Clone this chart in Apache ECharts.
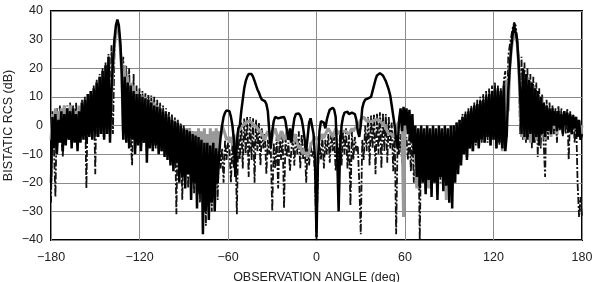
<!DOCTYPE html>
<html>
<head>
<meta charset="utf-8">
<script src="https://cdn.jsdelivr.net/npm/echarts@6/dist/echarts.min.js"></script>
<style>
	html, body { margin: 0; padding: 0; background: #fff; }
	#chart { width: 598px; height: 282px; }
</style>
</head>
<body>
<div id="chart"></div>
<script>
// sampling of observation angle (deg)
const angleStart = -180;
const angleStep = 1;
const xTicks = [ -180, -120, -60, 0, 60, 120, 180 ];
const yTicks = [ -40, -30, -20, -10, 0, 10, 20, 30, 40 ];

// thick black solid curve, dB
const rcsBlack = [
	-20, 3, -8, 4, -10, 2, -6, 5, -9, 4,          // -180
	-7, 6, -5, 5, -8, 6, -6, 4, -9, 5,            // -170
	-6, 8, -5, 9, -6, 11, -4, 12, -5, 13,         // -160
	-3, 15, -4, 17, -3, 19, -5, 21, -3, 24,       // -150
	-6, 12, 22, 30, 35, 37, 35, 29, 18, -5,       // -140
	17, -6, 15, -8, 14, -5, 12, -10, 11, -7,      // -130
	11, -9, 10, -6, 9.5, -13, 9, -8, 8, -9,       // -120
	7, -7, 6.5, -10, 6, -9, 5, -11, 4, -12,       // -110
	3, -14, 2, -16, 1.5, -13, 1, -20, 0, -18,     // -100
	-1, -22, -1.5, -17, -2, -26, -3, -20, -3.5, -29, // -90
	-4, -24, -5, -38, -6, -30, -6, -33, -7, -27,  // -80
	-6, -30, -8, -20, -10, -4, 0, 3, 4.5, 5.3,    // -70
	5.5, 5, 3, 0, -5, -18, -6, -1, 0, 5,          // -60
	9, 13, 15.5, 17, 18, 18.3, 18, 17, 15.6, 14,  // -50
	12.5, 11.5, 10, 9, 8.8, 8.5, 7.5, 5, -2, -8,  // -40
	-2, 1.5, 3, 3.2, 2.5, 2, 2.8, 3.2, 3, 1.5,    // -30
	-2, -5, -1, -6, -1, 2.5, 4, 4.4, 4.2, 3.5,    // -20
	2, -1, -5, -9, -4, 1, 2.5, 2, -3, -12,        // -10
	-39, -12, -2, 1.5, 2, 1, -1, 2, 4, 5.5,       // 0
	6, 6.2, 5.5, 3, -10, -30, -8, 0, 3, 4.5,      // 10
	5, 4.8, 4, 3.5, 4.5, 5, 4, 2, -2, -4,         // 20
	0, 6, 8, 9, 9.5, 9.5, 9.8, 10, 12, 14,        // 30
	16, 17.5, 18, 18.3, 18.2, 17.5, 16.5, 15.5, 14, 12.5, // 40
	10.5, 7, 3.5, 0, -5, -8, 2, 6, -2, 6.5,       // 50
	0, 6, -3, 5.5, -6, 4, -10, 0, -18, -1,        // 60
	-22, 0, -20, -1, -24, 0, -19, -1, -25, 0,     // 70
	-20, -1, -26, 0, -18, -1, -23, 0, -21, -1,    // 80
	-27, 0, -29, 0, -20, 1, -17, 2, -14, 3,       // 90
	-10, 4, -12, 5, -8, 6, -9, 7, -6, 7.5,        // 100
	-8, 8.5, -5, 9, -6, 10, -4, 11, -7, 12,       // 110
	-5, 12.5, -8, 13, -6, 12, -8, 14, -9, -3,     // 120
	12, 20, 27, 32, 35, 35, 30, 22, 12, -3,       // 130
	20, -4, 18, -5, 16, -3, 15, -6, 13, -4,       // 140
	12, -7, 10, -3, 8, -4, 7, -2, 6, -3,          // 150
	6, 0, 5, -2, 5, -1, 4, -3, 5, 0,              // 160
	4.5, -2, 4, -3, 3.5, -1, 3, -4, 2, -5,        // 170
	-3                                            // 180
];

// thick grey solid curve, dB
const rcsGrey = [
	-5, 4, 0, 6, 1, 5, -2, 6, 0, 7,               // -180
	2, 6, -1, 7, 1, 6, -3, 5, -2, 7,              // -170
	0, 8, -2, 9, -1, 11, -3, 12, -2, 13,          // -160
	-1, 15, -3, 17, -2, 19, -4, 21, -1, 23,       // -150
	-3, 10, 20, 28, 33, 34, 32, 27, 18, -2,       // -140
	21, -5, 17, -6, 15, -4, 14, -8, 12, -5,       // -130
	11, -7, 10.5, -5, 10, -9, 9, -6, 8.5, -7,     // -120
	8, -6, 7, -8, 6, -7, 5, -9, 4, -10,           // -110
	3, -11, 2, -12, 2, -10, 1, -14, 0, -13,       // -100
	-1, -16, -1, -12, -1, -18, -2, -14, -2, -20,  // -90
	-1, -15, -2, -22, -1, -18, -3, -20, -1, -16,  // -80
	-2, -18, -1, -10, -2, -4, 0, -0.5, -3, -5,    // -70
	-4, -6, -4, -7, -3, -8, -5, -2, -1, -0.5,     // -60
	0, 0.5, 1, 1.3, 1.5, 1.3, 1, 0.5, 0, -0.5,    // -50
	-1, -1.5, -2, -3, -4, -5, -3, -2, -4, -6,     // -40
	-4, -2, -1, -3, -5.5, -4, -2, -3, -5, -4,     // -30
	-2, -3, -5, -6, -4, -3, -5, -6, -8, -7,       // -20
	-9, -10, -8, -10, -11, -9, -7, -6, -5, -4,    // -10
	-5, -4, -5, -4, -3, -4.5, -3, -2, -1, -2,     // 0
	-3, -4, -2.5, -1, -2, -3, -2, -1.5, -2, -2.5, // 10
	-2, -2, -3, -2, -1, -2, -1, -0.5, 0, 1,       // 20
	2, 2.5, 3, 2.5, 1.5, 2, 1.5, 1, 1.5, 2,       // 30
	2, 2.2, 2, 1.5, 1, 0.5, 0, -1, -2, -3,        // 40
	-3.5, -3, -4, -3, -1, 0.5, 1, 2, 1, -32,      // 50
	0, 1, -1, -2, -1, -3, -3.5, -10, -22, -8,     // 60
	-12, -2, -20, -4, -18, -3, -22, -5, -16, -3,  // 70
	-20, -4, -24, -3, -18, -2, -21, -4, -26, -3,  // 80
	-19, -4, -23, -2, -17, -1, -15, 0, -12, 2,    // 90
	-10, 3, -11, 4, -8, 5, -9, 6, -6, 7,          // 100
	-7, 8, -5, 8, -6, 9, -4, 10, -7, 11,          // 110
	-5, 11, -8, 12, -6, 11, -9, 13, -8, 16,       // 120
	5, 20, 26, 30, 32, 32, 29, 22, 8, -4,         // 130
	18, -5, 17, -3, 16, -6, 14, -4, 12, -5,       // 140
	11, -7, 10, -3, 8, -5, 7, -2, 6, -4,          // 150
	5, -1, 5, -3, 4, 0, 4, -2, 3.5, 0,            // 160
	3, -1, 3, 0, 2.5, -1, 2, 0, 1.5, -3,          // 170
	0                                             // 180
];

// black dash-dot curve, dB
const rcsDashed = [
	-27, 5, -8, -25, 6, -6, 7, -4, -11, 6,        // -180
	-5, 7, -4, 8, -3, 7, -5, 8, -2, 6,            // -170
	-4, 9, -3, 10, -22, 11, -2, 12, -4, 14,       // -160
	-17, 16, -2, 18, -3, 20, -1, 22, -3, 25,      // -150
	0, 28, -3, 25, 33, 36, 34, 28, 20, 24,        // -140
	-3, 21, -2, 20, -4, -14, 18, -3, 14, -5,      // -130
	13, -4, 12, -6, 11.5, -3, 11, -7, 10.5, -5,   // -120
	10, -8, 9, -6, 8, -9, 7, -7, 6, -10,          // -110
	5, -12, 4, -14, 3, -31, 2, -15, 1, -26,       // -100
	0, -18, -1, -22, -1, -17, -2, -24, -3, -19,   // -90
	-3, -27, -4, -21, -5, -35, -5, -25, -6, -30,  // -80
	-7, -22, -8, -26, -6, -15, -8, -20, -5, -12,  // -70
	-6, -8, -20, -6, -15, -4, -31, -2, -12, 1,    // -60
	-15, 2.5, -10, 3, -18, 3, -12, 2.5, -20, 2,   // -50
	-9, 1, -14, -1, -8, -3, -17, -5, -10, -8,     // -40
	-30, -6, -15, -4, -22, -3, -12, -2, -29, -4,  // -30
	-11, -6, -16, -8, -5, -14, -3, -10, -2, -15,  // -20
	-3, -12, -6, -20, -8, -14, -6, -11, -9, -18,  // -10
	-40, -15, -6, -12, -4, -15, -5, -10, -3, -13, // 0
	-2, -9, -4, -16, -7, -11, -3, -14, -2, -10,   // 10
	-1, -15, -3, -28, -2, -12, -4, -9, -7, -20,   // 20
	-38, -5, -12, 0, -9, 3, -14, 3.5, -8, 4,      // 30
	-17, 4.4, -10, 4.6, -15, 4.4, -9, 4, -13, 3,  // 40
	-8, 1, -16, -2, -38, -5, -10, -3, -13, -1,    // 50
	-9, -4, -12, -2, -16, -3, -20, -4, -15, -2,   // 60
	-40, -3, -19, -2, -23, -1, -18, -2, -22, -1,  // 70
	-17, -2, -24, -1, -20, -2, -16, -1, -23, -2,  // 80
	-19, -1, -21, 0, -15, 1, -13, 2, -11, 4,      // 90
	-9, 5, -7, 6, -8, 7, -6, 8, -7, 9,            // 100
	-5, 10, -6, 11, -4, 12, -6, 13, -3, 14,       // 110
	-5, 15, -4, 14, -7, 13, -5, 16, 19, -4,       // 120
	24, 28, 31, 34, 36, 35, 31, 24, -3, 24,       // 130
	-5, 22, -6, 20, -4, 18, -8, 17, -6, 15,       // 140
	-11, 13, -8, 11, -6, -18, 9, -5, 8, -4,       // 150
	7, -3, 6, -6, 7, -2, 6, -4, 5, -3,            // 160
	6, -12, 5, -3, 4, -6, 3, -20, -32, -25,       // 170
	-32                                           // 180
];

function toPairs( values ) {
	let out = [];
	for ( let i = 0; i < values.length; i++ ) {
		out.push( [ angleStart + i * angleStep, values[i] ] );
	}
	return out;
}

const minus = function ( v ) {
	return String( v ).replace( '-', '\u2212' );
};

const font = 'Liberation Sans, Arial, sans-serif';
const myChart = echarts.init( document.getElementById( 'chart' ), null, { renderer: 'canvas' } );
const option = {
	animation: false,
	backgroundColor: '#fff',
	grid: {
		left: 51,
		right: 16,
		top: 11,
		bottom: 42,
		outerBoundsMode: 'none',
		containLabel: false,
		show: true,
		borderColor: '#000',
		borderWidth: 2,
		backgroundColor: 'transparent'
	},
	xAxis: {
		type: 'value',
		min: xTicks[0],
		max: xTicks[xTicks.length - 1],
		interval: 60,
		name: 'OBSERVATION ANGLE (deg)',
		nameLocation: 'middle',
		nameGap: 31,
		nameMoveOverlap: false,
		nameTextStyle: { fontFamily: font, fontSize: 12.5, color: '#222' },
		axisLine: { show: false },
		axisTick: { show: false },
		axisLabel: { fontFamily: font, fontSize: 12.5, color: '#222', margin: 11, formatter: minus },
		splitLine: { show: true, lineStyle: { color: '#8a8a8a', width: 1 } }
	},
	yAxis: {
		type: 'value',
		min: yTicks[0],
		max: yTicks[yTicks.length - 1],
		interval: 10,
		name: 'BISTATIC RCS (dB)',
		nameLocation: 'middle',
		nameGap: 36,
		nameMoveOverlap: false,
		nameTextStyle: { fontFamily: font, fontSize: 12.5, color: '#222' },
		axisLine: { show: false },
		axisTick: { show: false },
		axisLabel: { fontFamily: font, fontSize: 12.5, color: '#222', margin: 8, formatter: minus },
		splitLine: { show: true, lineStyle: { color: '#8a8a8a', width: 1 } }
	},
	series: [
		{
			name: 'dashed',
			type: 'line',
			data: toPairs( rcsDashed ),
			showSymbol: false,
			lineStyle: { color: '#111', width: 1.8, type: [ 7, 2, 2, 2 ] },
			z: 2
		},
		{
			name: 'grey',
			type: 'line',
			data: toPairs( rcsGrey ),
			showSymbol: false,
			lineStyle: { color: '#999', width: 3 },
			z: 3
		},
		{
			name: 'black',
			type: 'line',
			data: toPairs( rcsBlack ),
			showSymbol: false,
			lineStyle: { color: '#000', width: 2.5 },
			z: 4
		}
	]
};
myChart.setOption( option );
</script>
</body>
</html>
